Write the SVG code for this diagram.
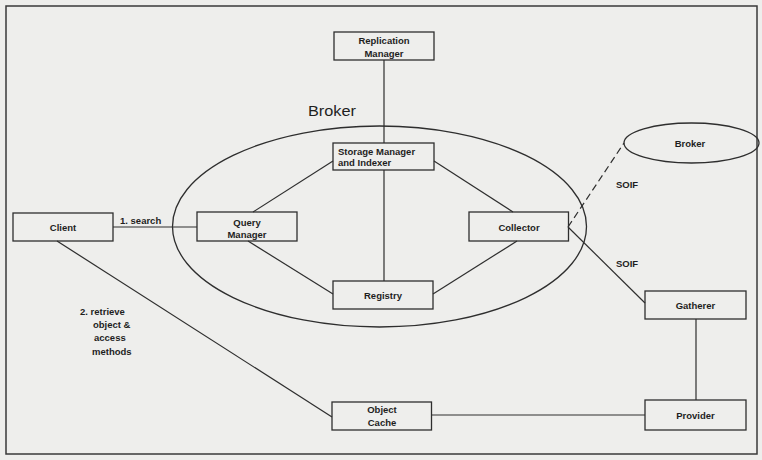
<svg xmlns="http://www.w3.org/2000/svg" width="762" height="460" viewBox="0 0 762 460">
<style>
.box{fill:none;stroke:#2e2e2e;stroke-width:1.3}
.ln{fill:none;stroke:#2e2e2e;stroke-width:1.2}
.t{font-family:"Liberation Sans",Arial,sans-serif;font-size:9.5px;font-weight:bold;fill:#1e1e1e}
.c{text-anchor:middle}
</style>
<rect x="0" y="0" width="762" height="460" fill="#eeeeec"/>
<rect x="6" y="6" width="751" height="448" fill="none" stroke="#3a3a3a" stroke-width="1.5"/>
<g id="connectors">
<line class="ln" x1="384" y1="60" x2="384" y2="143"/>
<line class="ln" x1="384" y1="170" x2="384" y2="281"/>
<line class="ln" x1="113" y1="227" x2="197" y2="227"/>
<line class="ln" x1="57" y1="241" x2="332" y2="417"/>
<line class="ln" x1="333" y1="161" x2="253" y2="212"/>
<line class="ln" x1="434" y1="161" x2="513" y2="212"/>
<line class="ln" x1="248" y1="241" x2="333" y2="294"/>
<line class="ln" x1="517" y1="241" x2="433" y2="294"/>
<line class="ln" x1="568" y1="227" x2="624" y2="143" stroke-dasharray="7,4"/>
<line class="ln" x1="568" y1="227" x2="645" y2="303"/>
<line class="ln" x1="696" y1="319" x2="696" y2="400"/>
<line class="ln" x1="431" y1="415" x2="645" y2="415"/>
<text class="t" x="120" y="223.5">1. search</text>
<text class="t" x="80" y="314.5">2. retrieve</text>
<text class="t" x="93" y="327.5">object &amp;</text>
<text class="t" x="94" y="341">access</text>
<text class="t" x="92" y="354.5">methods</text>
<text class="t" x="616" y="187.5">SOIF</text>
<text class="t" x="616" y="266.5">SOIF</text>
</g>
<g id="broker-main">
<ellipse cx="379.5" cy="226.5" rx="207" ry="100.5" class="box"/>
<text x="308" y="116" font-family="'Liberation Sans',Arial,sans-serif" font-size="14" fill="#1e1e1e" textLength="48" lengthAdjust="spacingAndGlyphs">Broker</text>
</g>
<g id="replication-manager">
<rect class="box" x="334" y="32" width="100" height="28"/>
<text class="t c" x="384" y="44">Replication</text>
<text class="t c" x="384" y="56.5">Manager</text>
</g>
<g id="storage-manager">
<rect class="box" x="333" y="143" width="101" height="27"/>
<text class="t" x="338" y="154.5">Storage Manager</text>
<text class="t" x="338" y="165.5">and Indexer</text>
</g>
<g id="client">
<rect class="box" x="13" y="213" width="100" height="28"/>
<text class="t c" x="63" y="230.5">Client</text>
</g>
<g id="query-manager">
<rect class="box" x="197" y="212" width="100" height="29"/>
<text class="t c" x="247" y="225.5">Query</text>
<text class="t c" x="247" y="237.5">Manager</text>
</g>
<g id="collector">
<rect class="box" x="469" y="212" width="99.5" height="29"/>
<text class="t c" x="519" y="230.5">Collector</text>
</g>
<g id="registry">
<rect class="box" x="333" y="281" width="100" height="28"/>
<text class="t c" x="383" y="298.5">Registry</text>
</g>
<g id="broker-remote">
<ellipse class="box" cx="691.5" cy="143" rx="67.5" ry="20"/>
<text class="t c" x="690" y="146.5">Broker</text>
</g>
<g id="gatherer">
<rect class="box" x="645" y="291" width="101" height="28"/>
<text class="t c" x="695.5" y="308.5">Gatherer</text>
</g>
<g id="provider">
<rect class="box" x="645" y="400" width="101" height="30"/>
<text class="t c" x="695.5" y="418.5">Provider</text>
</g>
<g id="object-cache">
<rect class="box" x="332" y="402" width="99.5" height="28"/>
<text class="t c" x="382" y="413">Object</text>
<text class="t c" x="382" y="426">Cache</text>
</g>
</svg>
